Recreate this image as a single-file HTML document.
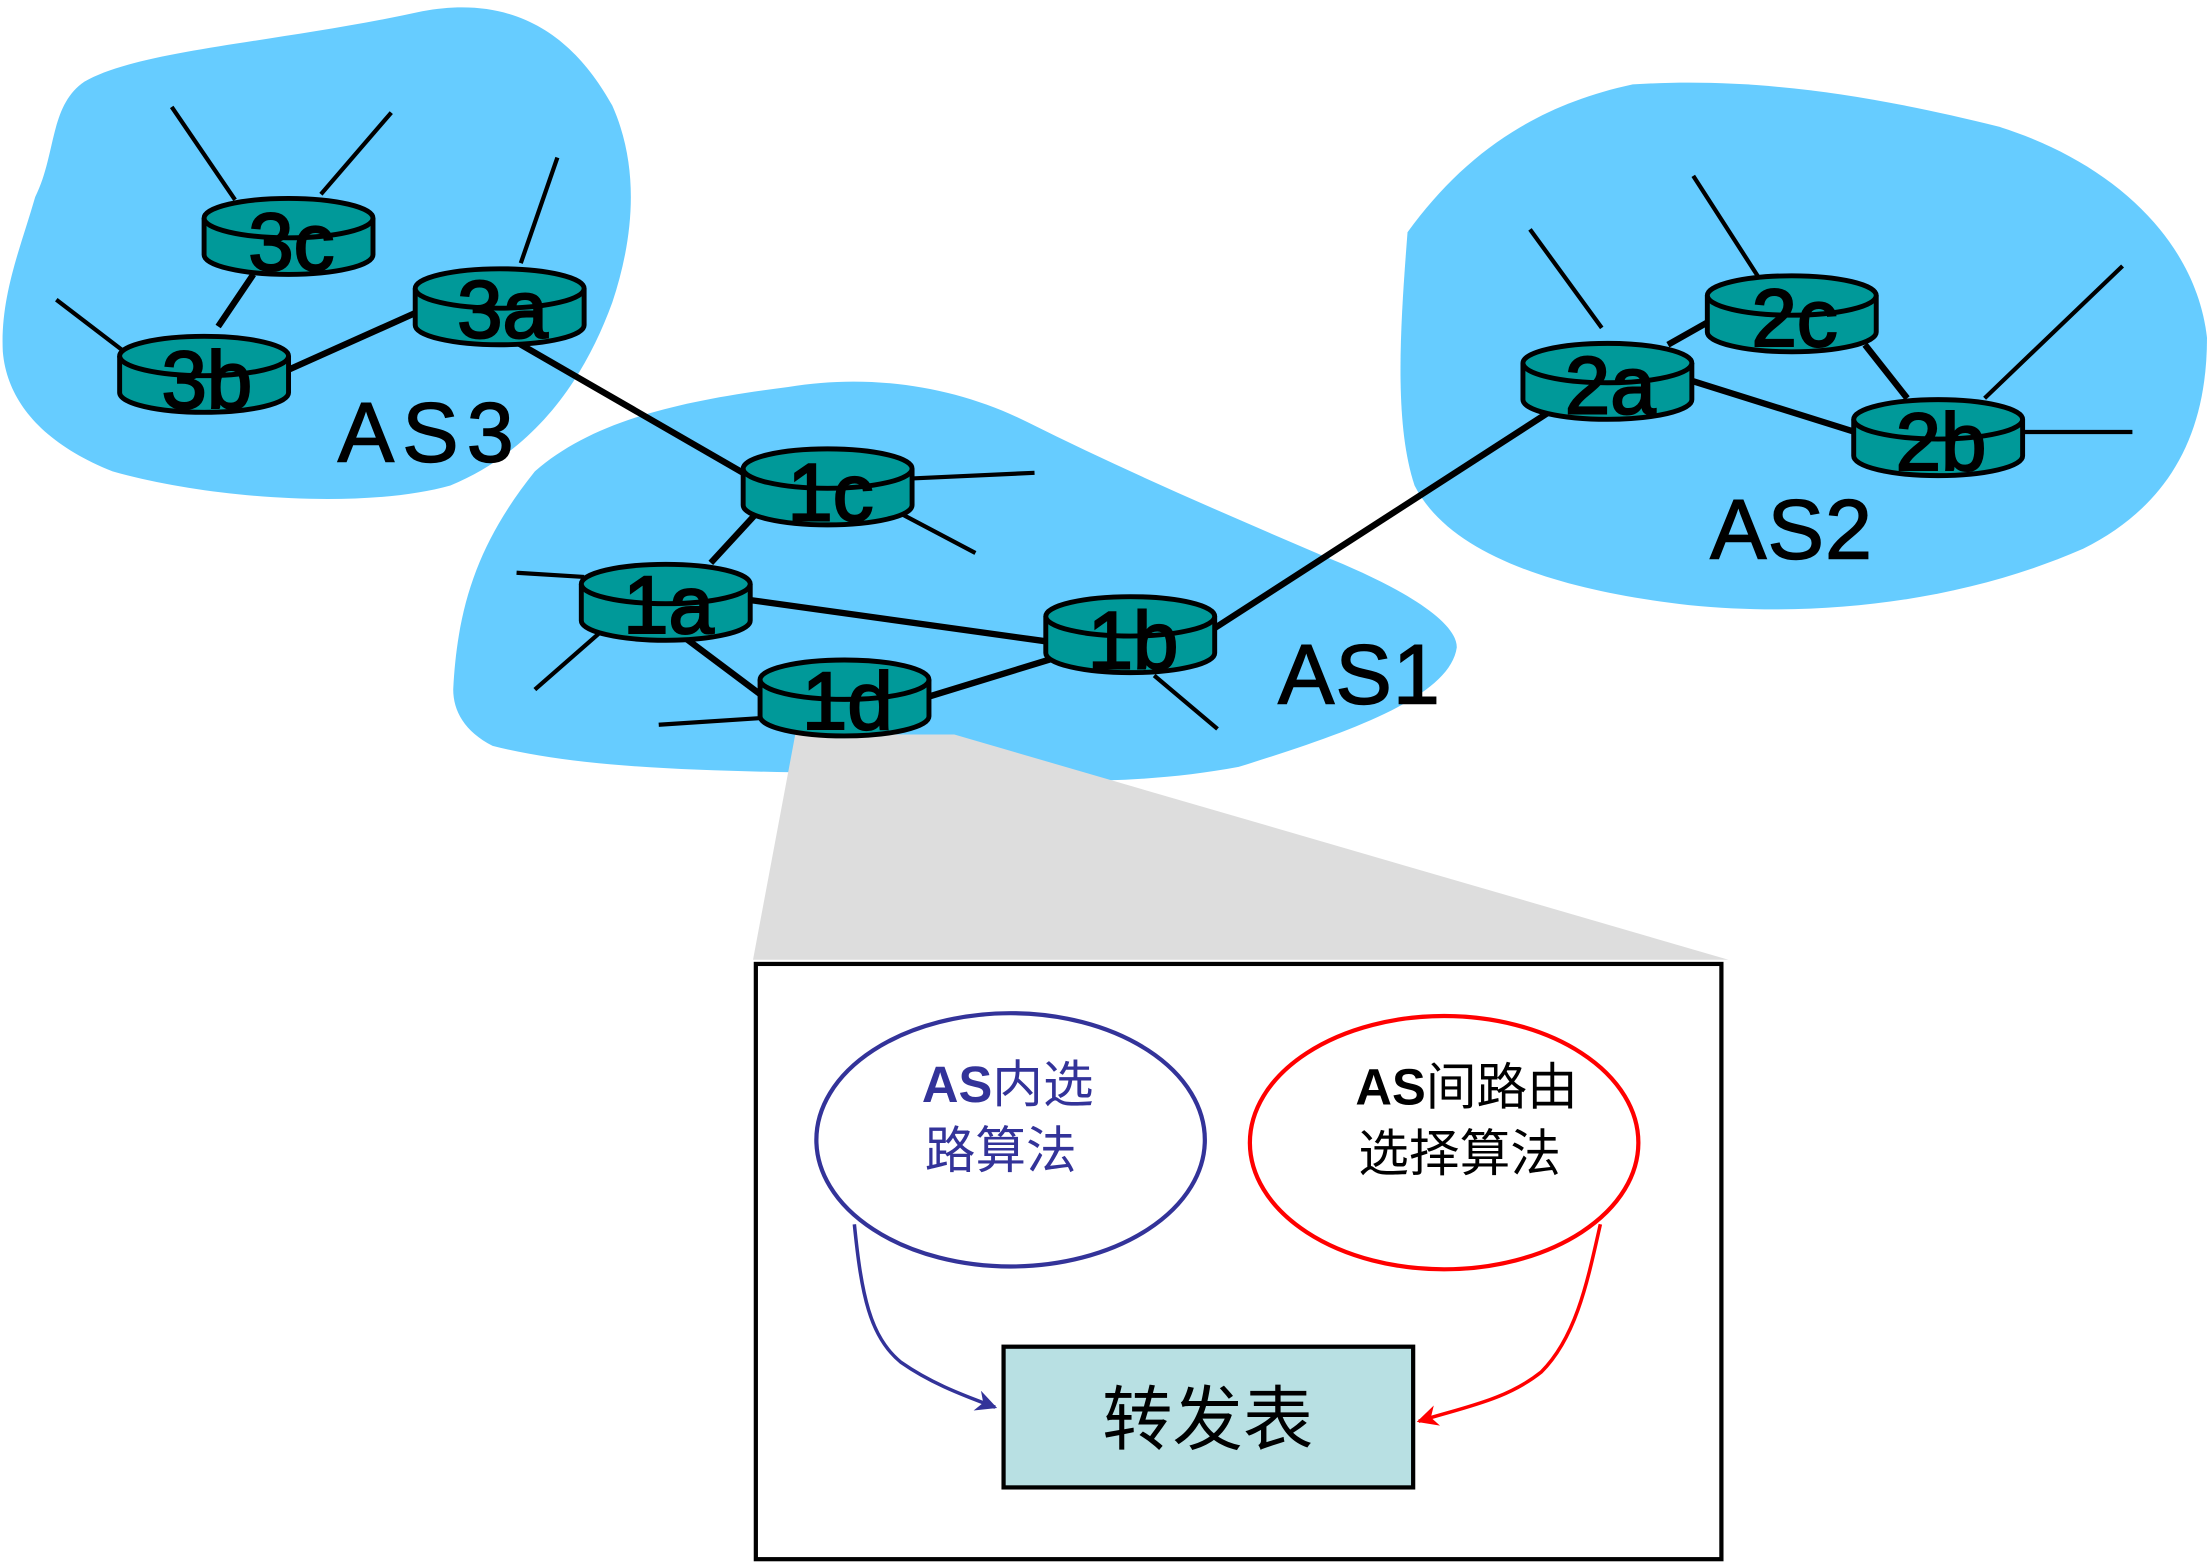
<!DOCTYPE html>
<html><head><meta charset="utf-8"><style>
html,body{margin:0;padding:0;background:#fff;}
svg{display:block;}
</style></head><body>
<svg width="2207" height="1562" viewBox="0 0 1568 1110" preserveAspectRatio="none" xmlns="http://www.w3.org/2000/svg">
<defs>
<g id="rt">
<path d="M-60,0 L-60,26 A60,14 0 0 0 60,26 L60,0" fill="#009999" stroke="#000" stroke-width="3.5"/>
<ellipse cx="0" cy="0" rx="60" ry="14" fill="#009999" stroke="#000" stroke-width="3.5"/>
</g>
<marker id="ab" viewBox="0 0 10 10" refX="9" refY="5" markerWidth="6" markerHeight="6" orient="auto"><path d="M0,0 L10,5 L0,10 L3,5z" fill="#333399"/></marker>
<marker id="ar" viewBox="0 0 10 10" refX="9" refY="5" markerWidth="6" markerHeight="6" orient="auto"><path d="M0,0 L10,5 L0,10 L3,5z" fill="#f00"/></marker>
</defs>
<g fill="#66ccff">
<path d="M25,140 C40,110 35,75 60,58 C100,35 200,30 300,8 C370,-5 410,30 435,75 C455,120 450,170 435,215 C415,270 380,320 320,345 C260,362 150,355 80,335 C30,315 5,285 2,250 C0,210 15,175 25,140Z"/>
<path d="M322,490 C325,430 340,385 380,335 C420,300 480,285 560,275 C620,265 680,275 730,300 C800,335 870,365 940,395 C990,415 1035,440 1035,460 C1030,495 960,520 880,545 C800,560 720,555 630,550 C520,548 420,548 350,530 C330,520 322,505 322,490Z"/>
<path d="M1000,165 C1040,110 1090,75 1160,60 C1240,55 1320,65 1420,90 C1500,115 1560,170 1568,240 C1568,310 1540,360 1480,390 C1400,425 1300,440 1200,430 C1110,420 1030,395 1005,345 C990,300 995,230 1000,165Z"/>
</g>
<polygon points="565,522 678,522 1228,682 535,682" fill="#dddddd"/>
<g stroke="#000" stroke-width="4.5" fill="none">
<line x1="155" y1="232" x2="180" y2="195"/><line x1="200" y1="265" x2="296" y2="222"/>
<line x1="365" y1="242" x2="540" y2="343"/><line x1="540" y1="362" x2="505" y2="400"/>
<line x1="530" y1="426" x2="745" y2="456"/><line x1="485" y1="452" x2="545" y2="497"/>
<line x1="660" y1="495" x2="748" y2="468"/><line x1="862" y1="447" x2="1105" y2="290"/>
<line x1="1185" y1="245" x2="1215" y2="228"/><line x1="1200" y1="270" x2="1318" y2="307"/>
<line x1="1325" y1="245" x2="1355" y2="283"/>
</g>
<g stroke="#000" stroke-width="3">
<line x1="122" y1="76" x2="167" y2="142"/><line x1="278" y1="80" x2="228" y2="138"/>
<line x1="40" y1="213" x2="95" y2="255"/><line x1="396" y1="112" x2="370" y2="187"/>
<line x1="648" y1="340" x2="735" y2="336"/><line x1="640" y1="365" x2="693" y2="393"/>
<line x1="367" y1="407" x2="415" y2="410"/><line x1="380" y1="490" x2="428" y2="448"/>
<line x1="468" y1="515" x2="545" y2="510"/><line x1="820" y1="480" x2="865" y2="518"/>
<line x1="1087" y1="163" x2="1138" y2="233"/><line x1="1203" y1="125" x2="1250" y2="198"/>
<line x1="1410" y1="283" x2="1508" y2="189"/><line x1="1435" y1="307" x2="1515" y2="307"/>
</g>
<use href="#rt" x="205" y="155"/><use href="#rt" x="145" y="253"/><use href="#rt" x="355" y="205"/>
<use href="#rt" x="588" y="333"/><use href="#rt" x="473" y="415"/><use href="#rt" x="600" y="483"/>
<use href="#rt" x="803" y="438"/><use href="#rt" x="1142" y="258"/><use href="#rt" x="1273" y="210"/>
<use href="#rt" x="1377" y="298"/>
<g font-family="Liberation Sans, sans-serif" font-size="58" fill="#000" stroke="#000" stroke-width="1.5" text-anchor="middle">
<text x="207" y="192">3c</text><text x="147" y="290">3b</text><text x="357" y="240">3a</text>
<text x="590" y="370">1c</text><text x="475" y="450">1a</text><text x="602" y="518">1d</text>
<text x="805" y="475">1b</text><text x="1144" y="294">2a</text><text x="1275" y="246">2c</text>
<text x="1379" y="334">2b</text>
</g>
<g font-family="Liberation Sans, sans-serif" font-size="60" fill="#000" stroke="#000" stroke-width="1">
<text x="240" y="328" textLength="125">AS3</text><text x="908" y="500" textLength="115">AS1</text><text x="1215" y="397" textLength="115">AS2</text>
</g>
<rect x="537" y="685" width="686" height="423" fill="#fff" stroke="#000" stroke-width="3"/>
<ellipse cx="718" cy="810" rx="138" ry="90" fill="#fff" stroke="#333399" stroke-width="3"/>
<ellipse cx="1026" cy="812" rx="138" ry="90" fill="#fff" stroke="#f00" stroke-width="3"/>
<rect x="713" y="957" width="291" height="100" fill="#b8e0e3" stroke="#000" stroke-width="3"/>
<text x="858" y="1026" font-family="Liberation Sans, 'Noto Sans CJK SC', sans-serif" font-size="50" text-anchor="middle">转发表</text>
<g font-family="Liberation Sans, 'Noto Sans CJK SC', sans-serif" font-size="36">
<text x="655" y="783" fill="#333399"><tspan font-weight="bold">AS</tspan>内选</text>
<text x="657" y="830" fill="#333399">路算法</text>
<text x="963" y="785" fill="#000"><tspan font-weight="bold">AS</tspan>间路由</text>
<text x="965" y="832" fill="#000">选择算法</text>
</g>
<path d="M607,870 C612,920 618,950 640,968 C660,982 680,990 707,1000" fill="none" stroke="#333399" stroke-width="2.5" marker-end="url(#ab)"/>
<path d="M1137,870 C1128,910 1120,950 1095,975 C1070,995 1040,1000 1008,1010" fill="none" stroke="#f00" stroke-width="2.5" marker-end="url(#ar)"/>
</svg>
</body></html>
